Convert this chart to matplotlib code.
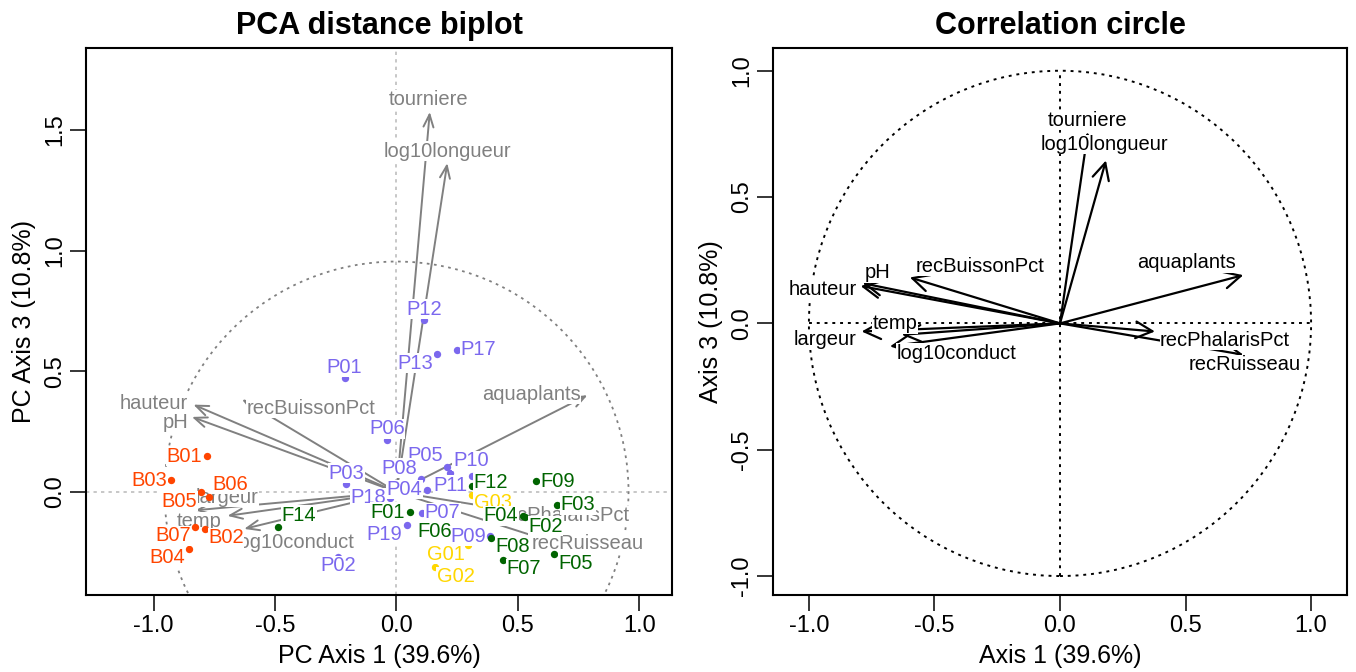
import matplotlib
matplotlib.use("Agg")
import matplotlib.pyplot as plt
from matplotlib.patches import Circle
import numpy as np

plt.rcParams['font.family'] = ['Liberation Sans', 'DejaVu Sans']

# sites scores on PC1 / PC3 (distance biplot)
sites = ['B01', 'B03', 'B05', 'B06', 'B07', 'B02', 'B04',
         'P01', 'P02', 'P03', 'P04', 'P05', 'P06', 'P07', 'P08', 'P09',
         'P10', 'P11', 'P12', 'P13', 'P17', 'P18', 'P19',
         'G01', 'G02', 'G03',
         'F14', 'F01', 'F02', 'F03', 'F04', 'F05', 'F06', 'F07', 'F08', 'F09', 'F12']
pc1 = [-0.782, -0.927, -0.803, -0.771, -0.829, -0.788, -0.855,
       -0.214, -0.242, -0.206, 0.124, 0.207, -0.040, 0.103, 0.102, 0.384,
       0.219, 0.312, 0.113, 0.168, 0.250, -0.026, 0.042,
       0.294, 0.157, 0.309,
       -0.487, 0.056, 0.528, 0.661, 0.520, 0.650, 0.247, 0.438, 0.391, 0.576, 0.311]
pc3 = [0.148, 0.048, -0.001, -0.019, -0.145, -0.152, -0.235,
       0.472, -0.269, 0.033, 0.010, 0.104, 0.217, -0.087, 0.053, -0.184,
       0.080, 0.065, 0.712, 0.571, 0.590, -0.023, -0.138,
       -0.221, -0.313, -0.014,
       -0.146, -0.084, -0.104, -0.054, -0.099, -0.258, -0.163, -0.280, -0.189, 0.044, 0.025]

# environmental variables
variables = ['tourniere', 'log10longueur', 'aquaplants', 'hauteur', 'pH',
             'recBuissonPct', 'largeur', 'temp', 'log10conduct',
             'recPhalarisPct', 'recRuisseau']
# arrows in the distance biplot
bip_x = [0.137, 0.209, 0.786, -0.836, -0.842, -0.636, -0.829, -0.696, -0.627, 0.400, 0.775]
bip_y = [1.575, 1.363, 0.401, 0.362, 0.311, 0.384, -0.076, -0.099, -0.153, -0.065, -0.250]
# correlations with axis 1 / axis 3
cor_x = [0.111, 0.183, 0.730, -0.794, -0.786, -0.598, -0.790, -0.630, -0.677, 0.378, 0.730]
cor_y = [0.757, 0.645, 0.191, 0.148, 0.159, 0.182, -0.032, -0.045, -0.091, -0.032, -0.124]

# label placement
bip_lab = [(0.132, 1.626), (0.208, 1.413), (0.554, 0.405), (-0.998, 0.366), (-0.911, 0.286),
           (-0.352, 0.346), (-0.696, -0.021), (-0.812, -0.124), (-0.420, -0.210),
           (0.693, -0.099), (0.787, -0.214)]
cor_lab = [(0.111, 0.805), (0.177, 0.708), (0.505, 0.240), (-0.943, 0.135), (-0.728, 0.200),
           (-0.319, 0.227), (-0.936, -0.065), (-0.657, -0.002), (-0.412, -0.118),
           (0.657, -0.068), (0.737, -0.164)]
offs = {'L': (-22, 0), 'R': (21, 0), 'U': (0, 11), 'D': (0, -9),
        'UL': (-22, 11), 'UR': (21, 12), 'DL': (-22, -9), 'DR': (21, -9),
        'Ru': (19, 3), 'Rd': (21, -7)}
site_dir = ['L', 'L', 'DL', 'UR', 'DL', 'DR', 'DL',
            'U', 'D', 'U', 'L', 'UL', 'U', 'R', 'UL', 'L',
            'UR', 'DL', 'U', 'DL', 'R', 'L', 'DL',
            'DL', 'DR', 'Rd',
            'UR', 'L', 'DR', 'R', 'L', 'DR', 'L', 'DR', 'DR', 'R', 'Ru']
colors = {'B': '#FF4500', 'P': '#7B68EE', 'F': '#006400', 'G': '#FFD700'}

fig = plt.figure(figsize=(13.56, 6.72), dpi=100)
ax1 = fig.add_axes([86/1356, 77/672, 586/1356, 547/672])
ax2 = fig.add_axes([773/1356, 77/672, 574/1356, 547/672])

lab_font = 14.5
box = dict(boxstyle='square,pad=0.02', fc='white', ec='none')

# ---- left: distance biplot
ax1.axhline(0, color='#BEBEBE', lw=1.2, ls=(0, (2, 2.5)), zorder=1)
ax1.axvline(0, color='#BEBEBE', lw=1.2, ls=(0, (2, 2.5)), zorder=1)
ax1.add_patch(Circle((0, 0), 0.955, fill=False, ec='#808080', lw=1.3, ls=(0, (1.5, 2.5)), zorder=1))
for i, v in enumerate(variables):
    ax1.annotate('', xy=(bip_x[i], bip_y[i]), xytext=(0, 0),
                 arrowprops=dict(arrowstyle='->,head_length=0.45,head_width=0.18',
                                 color='#808080', lw=1.4, shrinkA=0, shrinkB=0,
                                 mutation_scale=20), zorder=2)
for i, v in enumerate(variables):
    ax1.text(bip_lab[i][0], bip_lab[i][1], v, color='#808080', fontsize=lab_font,
             ha='center', va='center', bbox=box, zorder=3)
for i, s in enumerate(sites):
    ax1.scatter(pc1[i], pc3[i], s=28, color=colors[s[0]], zorder=4, linewidths=0)
for i, s in enumerate(sites):
    dx, dy = offs[site_dir[i]]
    ax1.annotate(s, (pc1[i], pc3[i]), xytext=(dx, dy), textcoords='offset pixels',
                 color=colors[s[0]], fontsize=lab_font, ha='center', va='center',
                 bbox=box, zorder=5)
ax1.set_xlim(-1.278, 1.134)
ax1.set_ylim(-0.427, 1.840)
ax1.set_xticks([-1.0, -0.5, 0.0, 0.5, 1.0])
ax1.set_yticks([0.0, 0.5, 1.0, 1.5])
ax1.set_title('PCA distance biplot', fontsize=22, fontweight='bold', pad=10)
ax1.set_xlabel('PC Axis 1 (39.6%)', fontsize=18, labelpad=5)
ax1.set_ylabel('PC Axis 3 (10.8%)', fontsize=18, labelpad=6)

# ---- right: correlation circle
ax2.plot([-1, 1], [0, 0], color='black', lw=1.4, ls=(0, (1.5, 2.5)), zorder=1)
ax2.plot([0, 0], [-1, 1], color='black', lw=1.4, ls=(0, (1.5, 2.5)), zorder=1)
ax2.add_patch(Circle((0, 0), 1.0, fill=False, ec='black', lw=1.4, ls=(0, (1.5, 2.5)), zorder=1))
for i, v in enumerate(variables):
    ax2.annotate('', xy=(cor_x[i], cor_y[i]), xytext=(0, 0),
                 arrowprops=dict(arrowstyle='->,head_length=0.6,head_width=0.3',
                                 color='black', lw=1.6, shrinkA=0, shrinkB=0,
                                 mutation_scale=20), zorder=2)
for i, v in enumerate(variables):
    ax2.text(cor_lab[i][0], cor_lab[i][1], v, color='black', fontsize=lab_font,
             ha='center', va='center', bbox=box, zorder=3)
ax2.set_xlim(-1.143, 1.143)
ax2.set_ylim(-1.075, 1.09)
ax2.set_xticks([-1.0, -0.5, 0.0, 0.5, 1.0])
ax2.set_yticks([-1.0, -0.5, 0.0, 0.5, 1.0])
ax2.set_title('Correlation circle', fontsize=22, fontweight='bold', pad=10)
ax2.set_xlabel('Axis 1 (39.6%)', fontsize=18, labelpad=5)
ax2.set_ylabel('Axis 3 (10.8%)', fontsize=18, labelpad=6)

for ax in (ax1, ax2):
    for sp in ax.spines.values():
        sp.set_linewidth(1.5)
    ax.tick_params(direction='out', length=11.5, width=1.1, labelsize=17, pad=3)
    ax.xaxis.set_major_formatter(matplotlib.ticker.FormatStrFormatter('%.1f'))
    ax.yaxis.set_major_formatter(matplotlib.ticker.FormatStrFormatter('%.1f'))
    for t in ax.get_yticklabels():
        t.set_rotation(90)
        t.set_va('center')

fig.savefig('out.png', dpi=100)
